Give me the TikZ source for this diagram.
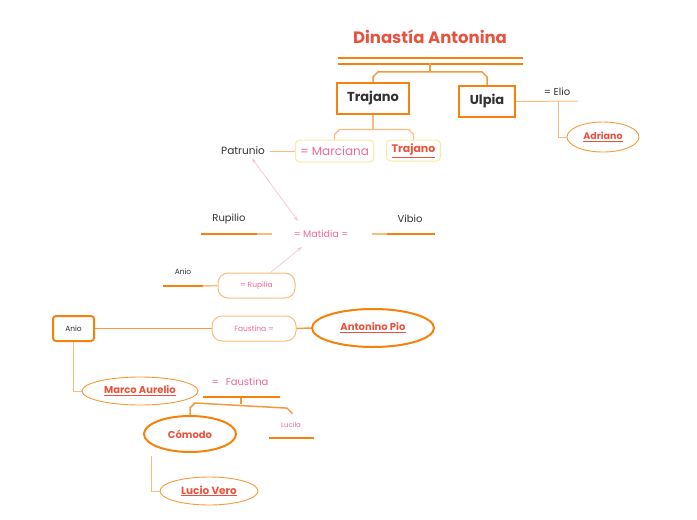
\documentclass[tikz,border=0pt]{standalone}
\usepackage{fontspec}
\setmainfont{Poppins}
\usetikzlibrary{arrows.meta, positioning, shapes.geometric, calc}
\definecolor{orangeD}{HTML}{F5820D}
\definecolor{orangeM}{HTML}{F69A3A}
\definecolor{orangeL}{HTML}{F9BC7C}
\definecolor{redT}{HTML}{E8533F}
\definecolor{pinkT}{HTML}{EE6A9A}
\definecolor{pinkL}{HTML}{F9C6DC}
\definecolor{yellowB}{HTML}{FCE8A6}
\definecolor{darkT}{HTML}{333333}
\tikzset{
  plain/.style={inner sep=2pt, text=darkT, font=\fontsize{10}{12}\selectfont},
  small/.style={font=\fontsize{7.5}{9}\selectfont},
  pinktext/.style={text=pinkT},
  kinbox/.style={draw=orangeD, rectangle, line width=2.3pt, fill=white, inner sep=0pt, text=darkT, font=\fontsize{13}{15}\selectfont\bfseries},
  wedbox/.style={draw=yellowB, rectangle, rounded corners=4pt, line width=1pt, fill=white, inner sep=0pt},
  spousebox/.style={draw=orangeL, rectangle, rounded corners=10pt, line width=1pt, fill=white, inner sep=0pt, text=pinkT, font=\fontsize{7.5}{9}\selectfont},
  heir/.style={draw=orangeD, ellipse, line width=2pt, fill=white, inner sep=0pt, text=redT, font=\fontsize{10}{12}\selectfont\bfseries},
  heirthin/.style={heir, draw=orangeM, line width=0.9pt},
  link/.style={draw=orangeL, line width=1pt},
  heavy/.style={draw=orangeD, line width=2.2pt},
  branch/.style={draw=orangeM, line width=1.5pt},
  pinkarrow/.style={{Stealth[length=5pt]}-{Stealth[length=5pt]}, draw=pinkL, line width=0.8pt}
}
\begin{document}
\begin{tikzpicture}[x=1pt, y=-1pt]
\useasboundingbox (0,0) rectangle (697,520);

\node[text=redT, font=\fontsize{16.5}{19}\selectfont\bfseries] (title) at (430,37) {Dinastía Antonina};
\coordinate (barL) at (338,61);
\coordinate (barR) at (523,61);
\coordinate (barM) at (430,63);
\draw[draw=orangeD, line width=2.4pt, double=white, double distance=3.6pt] (barL) -- (barR);

% Trajano and Ulpia
\node[kinbox, minimum width=72, minimum height=31] (trajano) at (373,98.5) {Trajano};
\node[kinbox, minimum width=56, minimum height=31] (ulpia) at (487,101.5) {Ulpia};
\draw[branch] (barM) -- ++(0,9);
\draw[branch] (trajano.north) -- ++(0,-5) -- ++(5,-5) -- ($(ulpia.north)+(-5,-13)$) -- ($(ulpia.north)+(0,-8)$) -- (ulpia.north);

\node[plain] (elio) at (557,92) {= Elio};
\coordinate (elioR) at (578,101);
\coordinate (elioM) at (558,101);
\node[heirthin, minimum width=72, minimum height=30, font=\fontsize{9.5}{11}\selectfont\bfseries] (adriano) at (603,137) {\underline{Adriano}};
\draw[link] (ulpia.east) -- (elioR);
\draw[link] (elioM) |- (adriano.west);

% children of Trajano's line
\node[wedbox, minimum width=78, minimum height=22, text=pinkT, font=\fontsize{12}{14}\selectfont] (marciana) at (334.5,151) {= Marciana};
\node[wedbox, minimum width=54, minimum height=21, text=redT, font=\fontsize{11}{13}\selectfont\bfseries] (trajanoB) at (413.5,150.5) {\underline{Trajano}};
\draw[link, line width=1.3pt] (trajano.south) -- ++(0,15);
\draw[link, line width=1.3pt] (marciana.north) -- ++(0,-5) -- ++(5,-5) -- ($(trajanoB.north)+(-5,-10)$) -- ($(trajanoB.north)+(0,-5)$) -- (trajanoB.north);

\node[plain, font=\fontsize{10.5}{12}\selectfont] (patrunio) at (243,151) {Patrunio};
\draw[link, shorten <=3pt] (patrunio.east) -- (marciana.west);

% Matidia
\node[plain, pinktext, font=\fontsize{9.5}{11}\selectfont] (matidia) at (321,234) {= Matidia =};
\node[plain] (rupilio) at (229,219) {Rupilio};
\node[plain] (vibio) at (410,219) {Vibio};
\coordinate (rupA) at (201,234);
\coordinate (vibA) at (372,234);
\draw[heavy] (rupA) -- ++(56,0) coordinate (rupB);
\draw[link, line width=1.5pt] (rupB) -- ++(15,0);
\draw[link, line width=1.5pt] (vibA) -- ++(15,0) coordinate (vibB);
\draw[heavy] (vibB) -- ++(48,0);
\draw[pinkarrow] ($(patrunio.south)+(9,1)$) -- ($(matidia.north)+(-23,-7)$);

% Rupilia
\node[plain, small] (anioT) at (183,272) {Anio};
\node[spousebox, minimum width=77, minimum height=25] (rupilia) at (256.5,285.5) {= Rupilia};
\coordinate (anioA) at (163,286);
\draw[heavy] (anioA) -- ++(40,0) coordinate (anioB);
\draw[link, line width=1.5pt] (anioB) -- (rupilia.west);
\draw[pinkarrow, -{Stealth[length=5pt]}] ($(rupilia.north)+(14,0)$) -- ($(matidia.south)+(-19,7)$);

% Anio and Antonino Pio
\node[kinbox, line width=2pt, rounded corners=3pt, minimum width=41, minimum height=25, font=\fontsize{7.5}{9}\selectfont] (anio) at (73.5,328.5) {Anio};
\node[spousebox, minimum width=84, minimum height=25] (faustinaA) at (254,328.5) {Faustina =};
\node[heir, minimum width=122, minimum height=38] (antonino) at (373,328) {\underline{Antonino Pio}};
\draw[branch] (anio.east) -- (faustinaA.west);
\draw[branch] (faustinaA.east) -- (antonino.west);

% Marco Aurelio
\node[heirthin, minimum width=116, minimum height=28] (marco) at (140,391) {\underline{Marco Aurelio}};
\draw[link] (anio.south) |- (marco.west);
\node[plain, pinktext] (faustinaB) at (240,382) {=\hspace{7pt}Faustina};
\coordinate (fauA) at (203,397);
\coordinate (fauM) at (241,398);
\draw[heavy] (fauA) -- ++(77,0);
\draw[branch] (fauM) -- ++(0,6);

% Cómodo, Lucila, Lucio Vero
\node[heir, minimum width=92, minimum height=36] (comodo) at (190,434) {Cómodo};
\node[plain, pinktext, font=\fontsize{7}{8}\selectfont] (lucila) at (291,425) {Lucila};
\coordinate (lucA) at (269,438);
\draw[heavy] (lucA) -- ++(45,0);
\draw[branch, shorten >=6pt] (comodo.north) -- ++(0,-7) -- ++(5,-5) -- ($(lucila.north)+(-4,-12)$) -- ($(lucila.north)+(1,-7)$) -- ($(lucila.north)+(1,0)$);
\node[heirthin, minimum width=98, minimum height=28, font=\fontsize{10.5}{12}\selectfont\bfseries] (lucio) at (209,491) {\underline{Lucio Vero}};
\draw[link] ($(comodo.south)+(-39,3)$) |- (lucio.west);

\end{tikzpicture}
\end{document}
